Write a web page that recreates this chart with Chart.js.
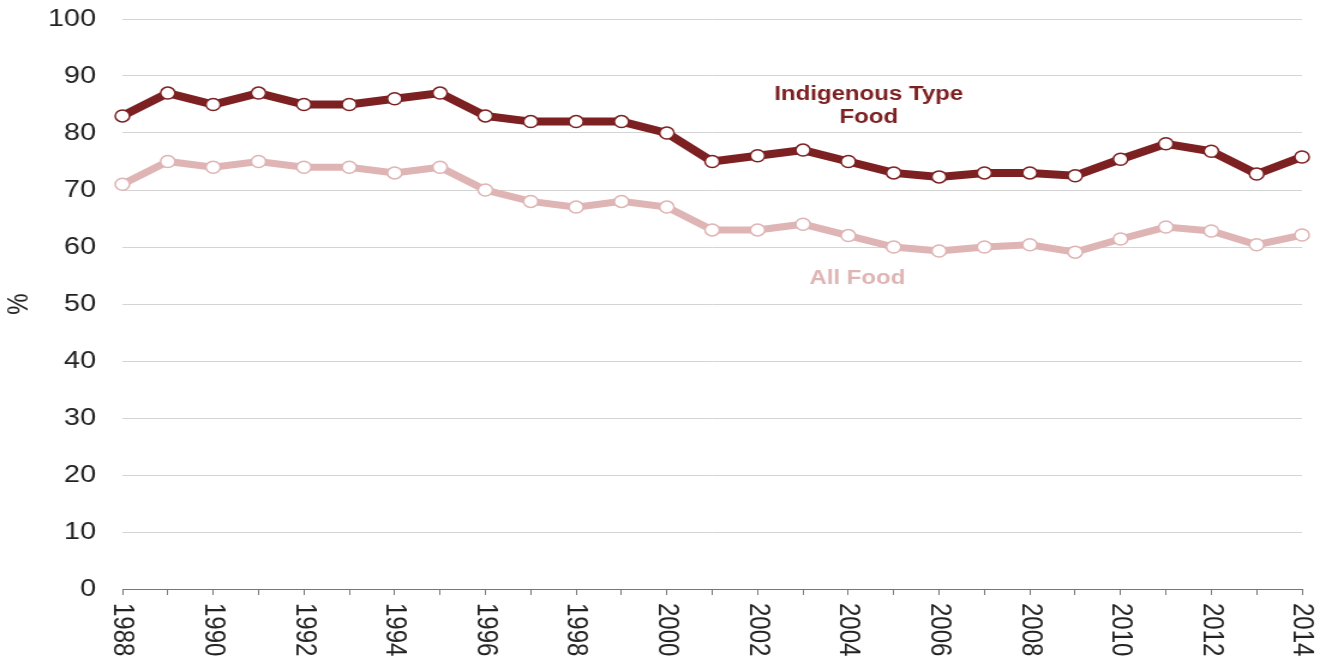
<!DOCTYPE html>
<html>
<head>
<meta charset="utf-8">
<script src="https://cdn.jsdelivr.net/npm/chart.js@4"></script>
<style>
  html, body { margin: 0; padding: 0; background: #fff; overflow: hidden; }
  /* the source picture is stretched sideways, so stretch the canvas the same way */
  #wrap { width: 1106px; height: 663px; transform: scaleX(1.2); transform-origin: 0 0; }
</style>
</head>
<body>
<div id="wrap"><canvas id="myChart" width="1106" height="663"></canvas></div>
<script>
const years = ["1988","1989","1990","1991","1992","1993","1994","1995","1996","1997","1998","1999","2000",
  "2001","2002","2003","2004","2005","2006","2007","2008","2009","2010","2011","2012","2013","2014"];

const indigenousFood = [83, 87, 85, 87, 85, 85, 86, 87, 83, 82, 82, 82, 80,
  75, 76, 77, 75, 73, 72.3, 73, 73, 72.5, 75.4, 78.1, 76.8, 72.8, 75.8];

const allFood = [71, 75, 74, 75, 74, 74, 73, 74, 70, 68, 67, 68, 67,
  63, 63, 64, 62, 60, 59.3, 60, 60.4, 59.1, 61.4, 63.5, 62.8, 60.4, 62.1];

const yTicks = [0, 10, 20, 30, 40, 50, 60, 70, 80, 90, 100];

const darkRed = "#7d2022";
const pink = "#dfb4b4";
const font = "'Liberation Sans', Arial, sans-serif";

// year labels read top to bottom, so draw them here
const yearLabels = {
  id: "yearLabels",
  afterDraw(chart) {
    const ctx = chart.ctx;
    const xs = chart.scales.x;
    ctx.save();
    ctx.font = "24px " + font;
    ctx.fillStyle = "#222";
    ctx.textAlign = "left";
    ctx.textBaseline = "middle";
    years.forEach(function (y, i) {
      if (i % 2 !== 0) return;
      const x = xs.getPixelForValue(i);
      ctx.save();
      ctx.translate(x, chart.chartArea.bottom + 14);
      ctx.rotate(Math.PI / 2);
      ctx.fillText(y, 0, 0);
      ctx.restore();
    });
    ctx.restore();
  },
};

const seriesNames = {
  id: "seriesNames",
  afterDraw(chart) {
    const ctx = chart.ctx;
    const xs = chart.scales.x;
    const ys = chart.scales.y;
    ctx.save();
    ctx.font = "bold 20px " + font;
    ctx.textAlign = "center";
    ctx.textBaseline = "middle";
    ctx.fillStyle = darkRed;
    ctx.fillText("Indigenous Type", xs.getPixelForValue(16.45), ys.getPixelForValue(86.8));
    ctx.fillText("Food", xs.getPixelForValue(16.45), ys.getPixelForValue(82.8));
    ctx.fillStyle = pink;
    ctx.fillText("All Food", xs.getPixelForValue(16.2), ys.getPixelForValue(54.4));
    ctx.restore();
  },
};

const data = {
  labels: years,
  datasets: [
    {
      label: "All Food",
      data: allFood,
      borderColor: pink,
      backgroundColor: "#fff",
      borderWidth: 7,
      pointRadius: 6,
      pointBorderWidth: 1.5,
      pointBorderColor: pink,
      pointBackgroundColor: "#fff",
      tension: 0,
    },
    {
      label: "Indigenous Type Food",
      data: indigenousFood,
      borderColor: darkRed,
      backgroundColor: "#fff",
      borderWidth: 8,
      pointRadius: 6,
      pointBorderWidth: 1.5,
      pointBorderColor: darkRed,
      pointBackgroundColor: "#fff",
      tension: 0,
    },
  ],
};

const config = {
  type: "line",
  data,
  options: {
    responsive: false,
    animation: false,
    layout: { padding: { top: 19, right: 21, left: 0, bottom: 0 } },
    plugins: {
      legend: { display: false },
      tooltip: { enabled: false },
    },
    scales: {
      x: {
        grid: {
          drawOnChartArea: false,
          drawTicks: true,
          tickLength: 6,
          color: "#777",
        },
        border: { display: true, color: "#777", width: 1 },
        ticks: { display: false, autoSkip: false },
        afterFit(scale) { scale.height = 74; },
      },
      y: {
        min: 0,
        max: 100,
        afterBuildTicks(scale) { scale.ticks = yTicks.map(v => ({ value: v })); },
        grid: { color: "#d4d4d4", lineWidth: 1, drawTicks: false },
        border: { display: false },
        ticks: {
          padding: 22,
          color: "#222",
          font: { family: font, size: 24 },
        },
        title: {
          display: true,
          text: "%",
          color: "#222",
          font: { family: font, size: 24 },
          padding: { top: 2, bottom: 0 },
        },
        afterFit(scale) {
          scale.width = 102;
          scale.paddingTop = 0;
          scale.paddingBottom = 0;
        },
      },
    },
  },
  plugins: [yearLabels, seriesNames],
};

const myChart = new Chart(document.getElementById("myChart"), config);
</script>
</body>
</html>
